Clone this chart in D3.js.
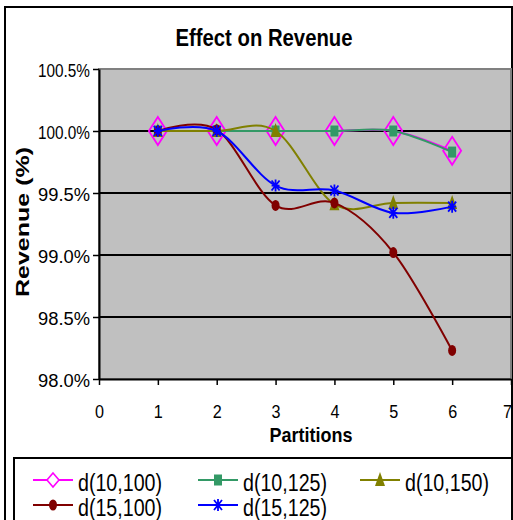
<!DOCTYPE html>
<html>
<head>
<meta charset="utf-8">
<script src="https://cdn.jsdelivr.net/npm/d3@7"></script>
<style>
  html, body { margin: 0; padding: 0; background: #fff; }
  svg text { font-family: "Liberation Sans", Arial, sans-serif; }
</style>
</head>
<body>
<svg id="chart" width="513" height="520"></svg>
<script>
// Revenue (%) by number of partitions for each d(·,·) configuration
const partitions = [1, 2, 3, 4, 5, 6];
const seriesNames = ["d(10,100)", "d(10,125)", "d(10,150)", "d(15,100)", "d(15,125)"];
const d10_100 = [100.0, 100.0, 100.0, 100.0, 100.0, 99.84];
const d10_125 = [100.0, 100.0, 100.0, 100.0, 100.0, 99.83];
const d10_150 = [100.0, 100.0, 100.0, 99.41, 99.42, 99.42];
const d15_100 = [100.0, 100.01, 99.40, 99.42, 99.02, 98.23];
const d15_125 = [100.0, 100.0, 99.56, 99.52, 99.34, 99.39];
const yTicks = [98.0, 98.5, 99.0, 99.5, 100.0, 100.5];
const xTicks = [0, 1, 2, 3, 4, 5, 6, 7];

const seriesValues = [d10_100, d10_125, d10_150, d15_100, d15_125];
const colors = ["#FF00FF", "#339966", "#808000", "#800000", "#0000FF"];
const markers = ["diamond", "square", "triangle", "circle", "star"];

const svg = d3.select("#chart");

// outer chart frame
svg.append("rect").attr("x", 5).attr("y", 7).attr("width", 507).attr("height", 520)
  .attr("fill", "#fff").attr("stroke", "#000").attr("stroke-width", 2);

const plot = { left: 99, right: 511, top: 69, bottom: 379 };
const x = d3.scaleLinear().domain([0, 7]).range([plot.left, plot.right]);
const y = d3.scaleLinear().domain([98, 100.5]).range([plot.bottom, plot.top]);

// plot area
svg.append("rect").attr("x", plot.left).attr("y", plot.top)
  .attr("width", plot.right - plot.left).attr("height", plot.bottom - plot.top)
  .attr("fill", "#C0C0C0").attr("stroke", "#808080").attr("stroke-width", 2);

// horizontal gridlines
svg.append("g").selectAll("line").data(yTicks.filter(v => v > 98 && v < 100.5)).join("line")
  .attr("x1", plot.left).attr("x2", plot.right)
  .attr("y1", d => y(d)).attr("y2", d => y(d))
  .attr("stroke", "#000").attr("stroke-width", 2);

// axes
const yAxis = d3.axisLeft(y).tickValues(yTicks).tickSize(6).tickSizeOuter(0)
  .tickFormat(d => d3.format(".1f")(d) + "%");
const gy = svg.append("g").attr("transform", `translate(${plot.left},0)`).call(yAxis);
gy.select(".domain").attr("stroke", "#000").attr("stroke-width", 2);
gy.selectAll(".tick line").attr("stroke", "#000").attr("stroke-width", 1.5);
gy.selectAll(".tick text").attr("font-size", 18).attr("fill", "#000").attr("x", -9)
  .attr("dy", "0.42em")
  .attr("textLength", 52).attr("lengthAdjust", "spacingAndGlyphs");

const xAxis = d3.axisBottom(x).tickValues(xTicks).tickSize(6).tickSizeOuter(0)
  .tickFormat(d3.format("d"));
const gx = svg.append("g").attr("transform", `translate(0,${plot.bottom})`).call(xAxis);
gx.select(".domain").attr("stroke", "#000").attr("stroke-width", 2);
gx.selectAll(".tick line").attr("stroke", "#000").attr("stroke-width", 1.5);
gx.selectAll(".tick text").attr("font-size", 19).attr("fill", "#000").attr("y", 39).attr("dy", 0)
  .attr("textLength", 9).attr("lengthAdjust", "spacingAndGlyphs")
  .attr("dx", d => d === 7 ? -4 : 0);

// titles
svg.append("text").attr("x", 264).attr("y", 46).attr("text-anchor", "middle")
  .attr("font-size", 23).attr("font-weight", "bold")
  .attr("textLength", 177).attr("lengthAdjust", "spacingAndGlyphs")
  .text("Effect on Revenue");
svg.append("text").attr("x", 311).attr("y", 442).attr("text-anchor", "middle")
  .attr("font-size", 21).attr("font-weight", "bold")
  .attr("textLength", 83).attr("lengthAdjust", "spacingAndGlyphs")
  .text("Partitions");
svg.append("text").attr("transform", "translate(29,222) rotate(-90)").attr("text-anchor", "middle")
  .attr("font-size", 19).attr("font-weight", "bold")
  .attr("textLength", 150).attr("lengthAdjust", "spacingAndGlyphs")
  .text("Revenue (%)");

// marker shapes
function drawMarker(g, type, color, cx, cy) {
  if (type === "diamond") {
    g.append("path").attr("d", `M${cx},${cy - 14}L${cx + 9},${cy}L${cx},${cy + 14}L${cx - 9},${cy}Z`)
      .attr("fill", "none").attr("stroke", color).attr("stroke-width", 1.8);
  } else if (type === "square") {
    g.append("rect").attr("x", cx - 4).attr("y", cy - 5.5).attr("width", 8).attr("height", 11)
      .attr("fill", color);
  } else if (type === "triangle") {
    g.append("path").attr("d", `M${cx},${cy - 8}L${cx + 5},${cy + 6}L${cx - 5},${cy + 6}Z`)
      .attr("fill", color);
  } else if (type === "circle") {
    g.append("ellipse").attr("cx", cx).attr("cy", cy).attr("rx", 4).attr("ry", 5.5)
      .attr("fill", color);
  } else if (type === "star") {
    g.append("path").attr("d",
      `M${cx - 4},${cy - 5}L${cx + 4},${cy + 5}M${cx + 4},${cy - 5}L${cx - 4},${cy + 5}` +
      `M${cx},${cy - 6}L${cx},${cy + 6}M${cx - 4},${cy}L${cx + 4},${cy}`)
      .attr("stroke", color).attr("stroke-width", 1.8).attr("fill", "none");
  }
}

// smoothed series lines with markers
const line = d3.line().x(d => x(d[0])).y(d => y(d[1])).curve(d3.curveCatmullRom.alpha(0));
seriesValues.forEach((vals, i) => {
  const pts = partitions.map((p, j) => [p, vals[j]]);
  const g = svg.append("g");
  g.append("path").datum(pts).attr("d", line)
    .attr("fill", "none").attr("stroke", colors[i]).attr("stroke-width", 2);
  pts.forEach(p => drawMarker(g, markers[i], colors[i], x(p[0]), y(p[1])));
});

// legend
svg.append("rect").attr("x", 14).attr("y", 458).attr("width", 498).attr("height", 70)
  .attr("fill", "#fff").attr("stroke", "#000").attr("stroke-width", 2);
const legendPos = [[33, 487], [198, 487], [360, 487], [33, 512], [198, 512]];
seriesNames.forEach((name, i) => {
  const [lx, ly] = legendPos[i];
  const g = svg.append("g");
  g.append("line").attr("x1", lx).attr("x2", lx + 40).attr("y1", ly - 7).attr("y2", ly - 7)
    .attr("stroke", colors[i]).attr("stroke-width", 2);
  if (markers[i] === "diamond") {
    g.append("path").attr("d", `M${lx + 20},${ly - 14}L${lx + 26},${ly - 7}L${lx + 20},${ly}L${lx + 14},${ly - 7}Z`)
      .attr("fill", "#fff").attr("stroke", colors[i]).attr("stroke-width", 1.6);
  } else {
    drawMarker(g, markers[i], colors[i], lx + 20, ly - 7);
  }
  g.append("text").attr("x", lx + 45).attr("y", ly + 4).attr("font-size", 23)
    .attr("textLength", 84).attr("lengthAdjust", "spacingAndGlyphs")
    .text(name);
});
</script>
</body>
</html>
